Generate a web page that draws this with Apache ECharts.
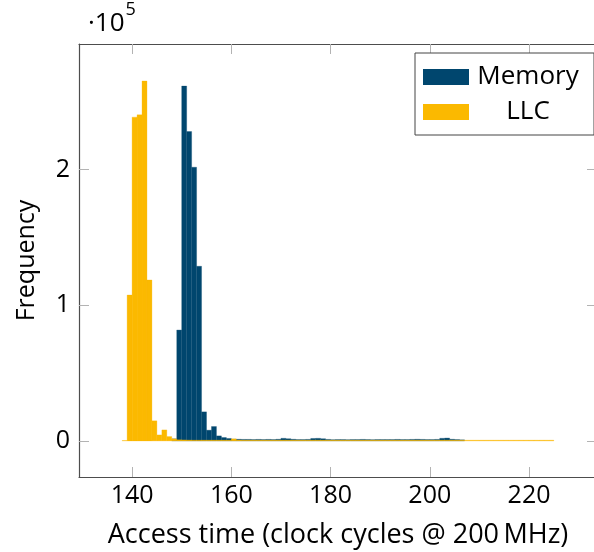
<!DOCTYPE html>
<html>
<head>
<meta charset="utf-8">
<script src="https://cdn.jsdelivr.net/npm/echarts@6/dist/echarts.min.js"></script>
<style>
  html, body { margin: 0; padding: 0; background: #fff; }
  #chart { width: 594px; height: 552px; }
</style>
</head>
<body>
<div id="chart"></div>
<script>
// histogram bins, width 1 clock cycle, first bin start
const memoryStart = 148;
const memoryCounts = [
  1500, 81700, 261500, 228000, 201700, 128700, 21400, 7900, 10600, 3700,
  2500, 1800, 1300, 1200, 1100, 1100, 1000, 1100, 1000, 1100,
  1000, 1200, 1900, 1600, 1200, 1000, 1000, 1100, 1800, 1900,
  1600, 1100, 900, 1000, 1000, 900, 1000, 1000, 1100, 1000,
  900, 1000, 1000, 1000, 1000, 1100, 1000, 1000, 1100, 1200,
  1100, 1000, 1000, 1100, 1900, 2100, 1200, 1000, 800
];
const llcStart = 138;
const llcCounts = [
  300, 107500, 238600, 240300, 265200, 118600, 14800, 4400, 8100, 3200,
  1500, 800, 700, 600, 500, 500, 500, 500, 500, 500,
  500, 500, 1500, 600, 500, 500, 500, 500, 500, 500,
  500, 500, 500, 500, 500, 500, 500, 500, 500, 500,
  500, 500, 500, 500, 500, 500, 500, 500, 500, 500,
  500, 500, 500, 500, 500, 500, 500, 500, 500, 500,
  500, 500, 500, 500, 500, 500, 500, 500, 500, 500,
  500, 500, 500, 500, 500, 500, 500, 500, 500, 500,
  500, 500, 500, 500, 500, 500, 500
];
const xTicks = [140, 160, 180, 200, 220];
const yTicks = [0, 100000, 200000];

const BLUE = '#00466e';
const YELLOW = '#fbb900';
const FONT = 'Open Sans';

const toPairs = (start, counts) => counts.map((c, i) => [start + i, c]);

const binRender = (color) => (params, api) => {
  const x0 = api.value(0);
  const y = api.value(1);
  const p0 = api.coord([x0, 0]);
  const p1 = api.coord([x0 + 1, y]);
  return {
    type: 'rect',
    shape: { x: p0[0], y: p1[1], width: p1[0] - p0[0], height: p0[1] - p1[1] },
    style: { fill: color, stroke: color, lineWidth: 0.3 }
  };
};

const chart = echarts.init(document.getElementById('chart'), null, { renderer: 'canvas' });

const tickStyle = { show: true, inside: true, length: 10, lineStyle: { color: '#b3b3b3', width: 1 } };
const lineStyle = { show: true, onZero: false, lineStyle: { color: '#4d4d4d', width: 1.2 } };

chart.setOption({
  animation: false,
  textStyle: { fontFamily: FONT },
  grid: { left: 79, top: 44, right: -3, bottom: 75, outerBoundsMode: 'none', containLabel: false },
  graphic: [{
    type: 'text',
    left: 88,
    top: 1,
    style: {
      text: '{a|·10}{b|5}',
      rich: {
        a: { fontSize: 26, fontFamily: FONT, fill: '#000', padding: [10, 0, 0, 0] },
        b: { fontSize: 18, fontFamily: FONT, fill: '#000', verticalAlign: 'top', padding: [0, 0, 12, 1] }
      }
    }
  }],
  legend: {
    orient: 'vertical',
    left: 415,
    top: 53,
    padding: [11, 12, 10, 8],
    itemGap: 9,
    itemWidth: 46,
    itemHeight: 16,
    borderColor: '#444',
    borderWidth: 1,
    backgroundColor: '#fff',
    formatter: '{c|{name}}',
    textStyle: {
      rich: {
        c: { fontSize: 26, fontFamily: FONT, color: '#000', width: 108, align: 'center', lineHeight: 28 }
      }
    },
    data: [
      { name: 'Memory', icon: 'rect', itemStyle: { color: BLUE } },
      { name: 'LLC', icon: 'rect', itemStyle: { color: YELLOW } }
    ]
  },
  xAxis: [{
    type: 'value',
    min: 129.3,
    max: 233.7,
    name: 'Access time (clock cycles @ 200\u2009MHz)',
    nameLocation: 'middle',
    nameGap: 45,
    nameTextStyle: { fontSize: 27, fontFamily: FONT, color: '#000' },
    axisLine: lineStyle,
    axisTick: Object.assign({ customValues: xTicks }, tickStyle),
    axisLabel: { customValues: xTicks, fontSize: 25, fontFamily: FONT, color: '#000', margin: 6 },
    splitLine: { show: false }
  }, {
    type: 'value',
    position: 'top',
    min: 129.3,
    max: 233.7,
    axisLine: lineStyle,
    axisTick: Object.assign({ customValues: xTicks }, tickStyle),
    axisLabel: { show: false },
    splitLine: { show: false }
  }],
  yAxis: [{
    type: 'value',
    min: -26600,
    max: 292500,
    name: 'Frequency',
    nameLocation: 'middle',
    nameGap: 40,
    nameTextStyle: { fontSize: 25, fontFamily: FONT, color: '#000' },
    axisLine: lineStyle,
    axisTick: Object.assign({ customValues: yTicks }, tickStyle),
    axisLabel: {
      customValues: yTicks, fontSize: 25, fontFamily: FONT, color: '#000', margin: 9,
      formatter: (v) => String(v / 100000)
    },
    splitLine: { show: false }
  }, {
    type: 'value',
    position: 'right',
    min: -26600,
    max: 292500,
    axisLine: lineStyle,
    axisTick: Object.assign({ customValues: yTicks }, tickStyle),
    axisLabel: { show: false },
    splitLine: { show: false }
  }],
  series: [{
    name: 'Memory',
    type: 'custom',
    xAxisIndex: 0,
    yAxisIndex: 0,
    itemStyle: { color: BLUE },
    renderItem: binRender(BLUE),
    data: toPairs(memoryStart, memoryCounts),
    z: 2
  }, {
    name: 'LLC',
    type: 'custom',
    xAxisIndex: 0,
    yAxisIndex: 0,
    itemStyle: { color: YELLOW },
    renderItem: binRender(YELLOW),
    data: toPairs(llcStart, llcCounts),
    z: 3
  }]
});
</script>
</body>
</html>
